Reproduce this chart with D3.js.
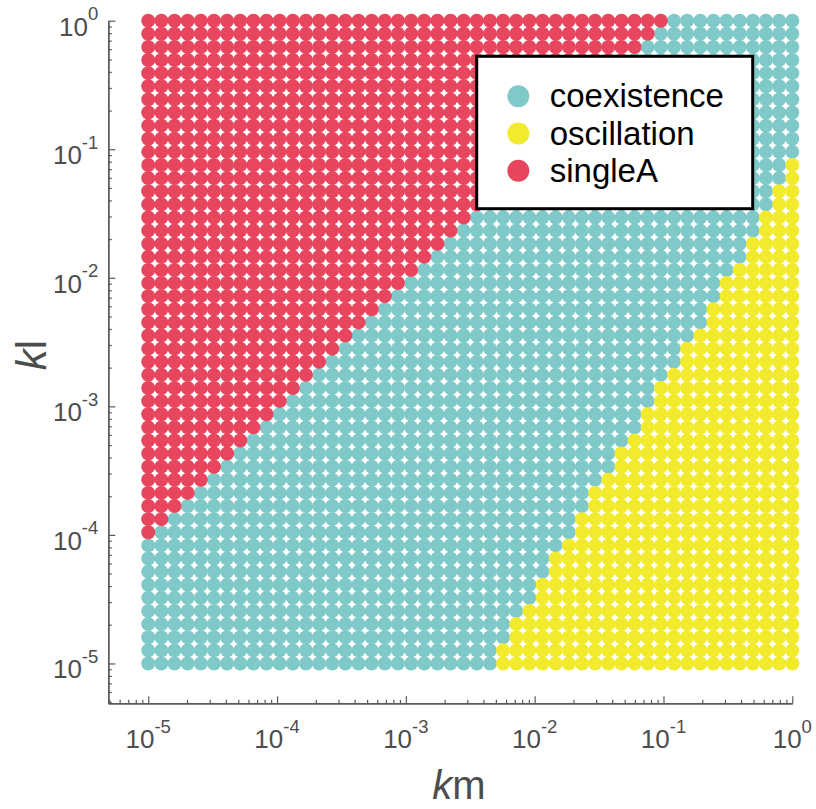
<!DOCTYPE html>
<html>
<head>
<meta charset="utf-8">
<script src="https://cdn.jsdelivr.net/npm/d3@7"></script>
<style>
  body { margin: 0; background: #fff; }
  svg { display: block; }
</style>
</head>
<body>
<svg id="chart" width="816" height="809"></svg>
<script>
// Parameter sweep: 50 log-spaced values from 1e-5 to 1, used for both km (x) and kl (y)
const sweepValues = [
  1.000e-5, 1.265e-5, 1.600e-5, 2.024e-5, 2.560e-5, 3.238e-5, 4.095e-5, 5.180e-5, 6.551e-5, 8.287e-5,
  1.048e-4, 1.326e-4, 1.677e-4, 2.121e-4, 2.683e-4, 3.393e-4, 4.292e-4, 5.429e-4, 6.866e-4, 8.685e-4,
  1.099e-3, 1.389e-3, 1.758e-3, 2.223e-3, 2.812e-3, 3.556e-3, 4.498e-3, 5.690e-3, 7.197e-3, 9.103e-3,
  1.151e-2, 1.456e-2, 1.842e-2, 2.330e-2, 2.947e-2, 3.728e-2, 4.715e-2, 5.964e-2, 7.543e-2, 9.541e-2,
  0.1207, 0.1526, 0.1931, 0.2442, 0.3089, 0.3907, 0.4942, 0.6251, 0.7906, 1.000
];

// For each kl row (lowest kl first): how many of the smallest-km points end in "singleA"
const singleACount = [
  0, 0, 0, 0, 0, 0, 0, 0, 0, 0,
  1, 2, 3, 4, 5, 6, 7, 8, 9, 10,
  11, 12, 13, 14, 15, 16, 17, 18, 19, 20,
  21, 22, 23, 24, 25, 26, 27, 28, 29, 30,
  31, 32, 33, 34, 35, 36, 37, 38, 39, 40
];

// For each kl row (lowest kl first): how many of the largest-km points end in "oscillation"
const oscillationCount = [
  23, 23, 22, 22, 21, 20, 20, 19, 19, 18,
  17, 17, 16, 16, 15, 14, 14, 13, 12, 12,
  11, 11, 10, 9, 9, 8, 7, 7, 6, 6,
  5, 4, 4, 3, 3, 2, 2, 1, 1, 0,
  0, 0, 0, 0, 0, 0, 0, 0, 0, 0
];

const categories = ["coexistence", "oscillation", "singleA"];
const majorExponents = [-5, -4, -3, -2, -1, 0];

const colors = {
  coexistence: "#80C9C9",
  oscillation: "#F2EA2C",
  singleA: "#E8455F"
};

const FONT = "'Liberation Sans', Arial, Helvetica, sans-serif";
const AXIS_GREY = "#5a5a5a";
const LABEL_GREY = "#4d4d4d";

const svg = d3.select("#chart");

const plot = { left: 108.3, right: 792.3, top: 20.7, bottom: 703.3 };
const lo = Math.pow(10, -5.31);

const x = d3.scaleLog().domain([lo, 1]).range([plot.left, plot.right]);
const y = d3.scaleLog().domain([lo, 1]).range([plot.bottom, plot.top]);

// Classify every grid point
const n = sweepValues.length;
const points = [];
sweepValues.forEach((kl, j) => {
  sweepValues.forEach((km, i) => {
    let cat = "coexistence";
    if (i < singleACount[j]) cat = "singleA";
    else if (i >= n - oscillationCount[j]) cat = "oscillation";
    points.push({ km, kl, cat });
  });
});

// Dots, one layer per category in legend order
const dotLayer = svg.append("g");
categories.forEach(cat => {
  dotLayer.append("g")
    .selectAll("circle")
    .data(points.filter(p => p.cat === cat))
    .join("circle")
    .attr("cx", d => x(d.km))
    .attr("cy", d => y(d.kl))
    .attr("r", 7)
    .attr("fill", colors[cat]);
});

// Tick positions: decades and the 2..9 minor ticks inside the domain
const majorTicks = majorExponents.map(e => Math.pow(10, e));
const minorTicks = [];
for (let e = -6; e < 0; e++) {
  for (let m = 2; m <= 9; m++) {
    const v = m * Math.pow(10, e);
    if (v >= lo && v <= 1) minorTicks.push(v);
  }
}

function styleAxis(g) {
  g.select(".domain").attr("stroke", AXIS_GREY).attr("stroke-width", 1.4);
  g.selectAll(".tick line").attr("stroke", AXIS_GREY).attr("stroke-width", 1.2);
}

// x axis (ticks point into the plot)
const xAxisG = svg.append("g").attr("transform", `translate(0,${plot.bottom})`);
xAxisG.append("g")
  .call(d3.axisBottom(x).tickValues(minorTicks).tickSizeInner(-3.5).tickSizeOuter(0).tickFormat(""))
  .call(styleAxis);
xAxisG.append("g")
  .call(d3.axisBottom(x).tickValues(majorTicks).tickSizeInner(-7).tickSizeOuter(0).tickFormat(""))
  .call(styleAxis);

// y axis
const yAxisG = svg.append("g").attr("transform", `translate(${plot.left},0)`);
yAxisG.append("g")
  .call(d3.axisLeft(y).tickValues(minorTicks).tickSizeInner(-3.5).tickSizeOuter(0).tickFormat(""))
  .call(styleAxis);
yAxisG.append("g")
  .call(d3.axisLeft(y).tickValues(majorTicks).tickSizeInner(-7).tickSizeOuter(0).tickFormat(""))
  .call(styleAxis);

// Power-of-ten tick labels with superscript exponents
function powerLabel(sel, e) {
  sel.append("tspan").text("10");
  sel.append("tspan")
    .attr("dy", -15.6)
    .attr("font-size", 18.5)
    .text(String(e));
}

svg.append("g").selectAll("text")
  .data(majorExponents)
  .join("text")
  .attr("x", e => x(Math.pow(10, e)))
  .attr("y", plot.bottom + 45)
  .attr("text-anchor", "middle")
  .attr("font-family", FONT)
  .attr("font-size", 26)
  .attr("fill", LABEL_GREY)
  .each(function (e) { powerLabel(d3.select(this), e); });

svg.append("g").selectAll("text")
  .data(majorExponents)
  .join("text")
  .attr("x", plot.left - 10)
  .attr("y", e => y(Math.pow(10, e)) + 15)
  .attr("text-anchor", "end")
  .attr("font-family", FONT)
  .attr("font-size", 26)
  .attr("fill", LABEL_GREY)
  .each(function (e) { powerLabel(d3.select(this), e); });

// Axis titles
const xTitle = svg.append("text")
  .attr("x", 459)
  .attr("y", 799)
  .attr("text-anchor", "middle")
  .attr("font-family", FONT)
  .attr("font-size", 40)
  .attr("fill", LABEL_GREY);
xTitle.append("tspan").attr("font-style", "italic").text("k");
xTitle.append("tspan").text("m");

const yTitle = svg.append("text")
  .attr("transform", "translate(46,355) rotate(-90)")
  .attr("text-anchor", "middle")
  .attr("font-family", FONT)
  .attr("font-size", 42)
  .attr("fill", LABEL_GREY);
yTitle.append("tspan").attr("font-style", "italic").text("k");
yTitle.append("tspan").text("l");

// Legend
const legend = svg.append("g").attr("transform", "translate(476.7,56.3)");
legend.append("rect")
  .attr("width", 276)
  .attr("height", 152.4)
  .attr("fill", "#fff")
  .attr("stroke", "#000")
  .attr("stroke-width", 3);

const entries = legend.selectAll("g.entry")
  .data(categories)
  .join("g")
  .attr("class", "entry")
  .attr("transform", (d, k) => `translate(0,${40 + k * 37.2})`);

entries.append("circle")
  .attr("cx", 41.6)
  .attr("cy", 0)
  .attr("r", 11)
  .attr("fill", d => colors[d]);

entries.append("text")
  .attr("x", 73)
  .attr("y", 11)
  .attr("font-family", FONT)
  .attr("font-size", 33)
  .attr("fill", "#000")
  .text(d => d);
</script>
</body>
</html>
